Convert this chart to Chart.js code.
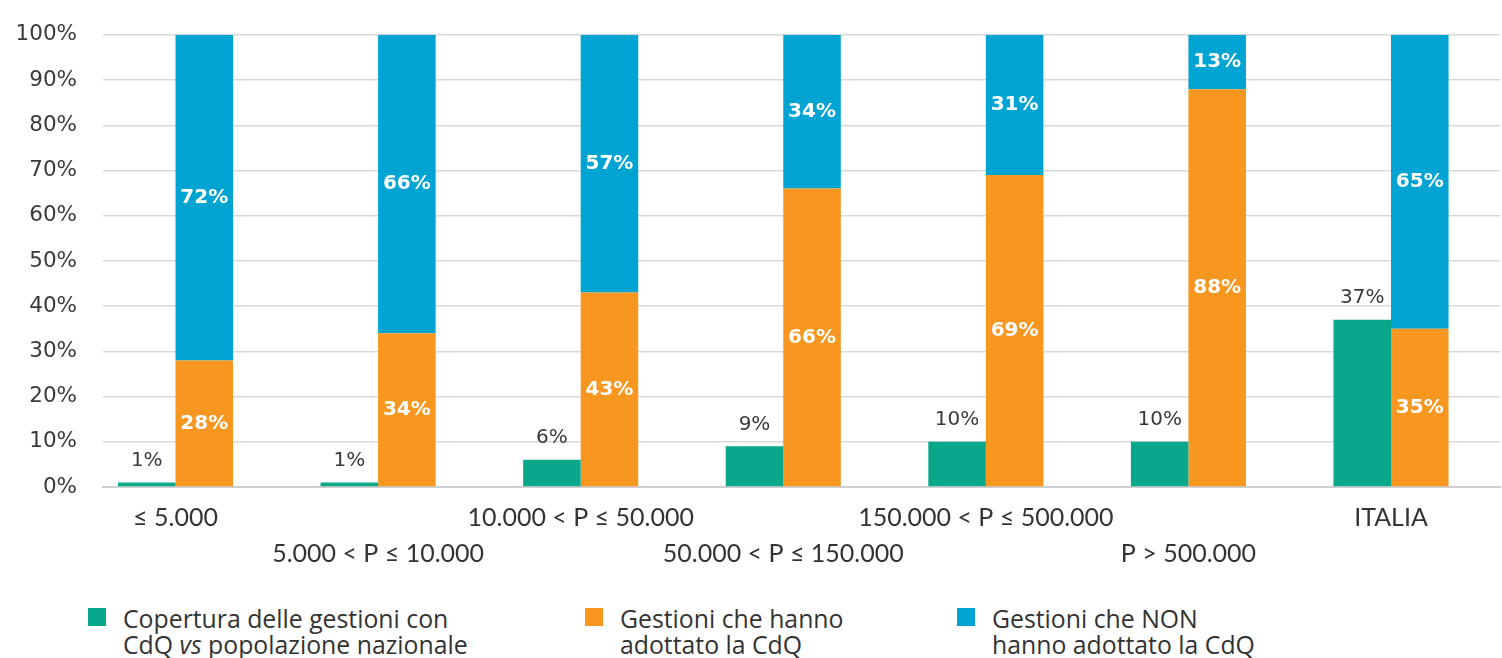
<!DOCTYPE html>
<html>
<head>
<meta charset="utf-8">
<script src="https://cdn.jsdelivr.net/npm/chart.js@4"></script>
<style>
  body { margin: 0; background: #fff; }
  #wrap { position: relative; width: 1502px; height: 658px; overflow: hidden; }
  #chart-box { position: absolute; left: 0; top: -4px; width: 1502px; height: 581px; }
  .legend-item { position: absolute; top: 605px; font-family: "Open Sans", sans-serif; font-size: 24.8px; line-height: 26px; color: #333; white-space: nowrap; }
  .legend-item .box { position: absolute; left: -35px; top: 3px; width: 18px; height: 18px; }
</style>
</head>
<body>
<div id="wrap">
  <div id="chart-box"><canvas id="chart"></canvas></div>
  <div id="legend"></div>
</div>
<script>
const categories = ["\u2264 5.000", "5.000 < P \u2264 10.000", "10.000 < P \u2264 50.000", "50.000 < P \u2264 150.000", "150.000 < P \u2264 500.000", "P > 500.000", "ITALIA"];
const coverage = [1, 1, 6, 9, 10, 10, 37];
const adopted = [28, 34, 43, 66, 69, 88, 35];
const notAdopted = [72, 66, 57, 34, 31, 13, 65];
const yTicks = [0, 10, 20, 30, 40, 50, 60, 70, 80, 90, 100];

const seriesNames = [
    "Copertura delle gestioni con<br>CdQ <i>vs</i> popolazione nazionale",
    "Gestioni che hanno<br>adottato la CdQ",
    "Gestioni che NON<br>hanno adottato la CdQ"
];
const colors = ["#0aa88a", "#f7971f", "#00a4d3"];
const legendX = [123, 620, 992];

function toPoints(values) {
    return values.map((v, i) => ({ x: i, y: v }));
}

// value labels drawn from the bar elements
const valueLabels = {
    id: "valueLabels",
    afterDatasetsDraw(chart) {
        const ctx = chart.ctx;
        const area = chart.chartArea;
        ctx.save();
        ctx.textAlign = "center";
        ctx.textBaseline = "middle";
        chart.data.datasets.forEach((ds, di) => {
            const meta = chart.getDatasetMeta(di);
            meta.data.forEach((bar, i) => {
                const v = ds.data[i].y;
                if (di === 0) {
                    ctx.fillStyle = "#3a3a3a";
                    ctx.font = "20px 'DejaVu Sans'";
                    ctx.fillText(v + "%", bar.x, bar.y - 22);
                } else {
                    const top = Math.max(bar.y, area.top);
                    ctx.fillStyle = "#ffffff";
                    ctx.font = "bold 20px 'DejaVu Sans'";
                    ctx.fillText(v + "%", bar.x, (top + bar.base) / 2);
                }
            });
        });
        ctx.restore();
    }
};

new Chart(document.getElementById("chart"), {
    type: "bar",
    data: {
        datasets: [
            { label: "Copertura", data: toPoints(coverage), backgroundColor: colors[0], stack: "a" },
            { label: "Adottato", data: toPoints(adopted), backgroundColor: colors[1], stack: "b" },
            { label: "Non adottato", data: toPoints(notAdopted), backgroundColor: colors[2], stack: "b" }
        ]
    },
    options: {
        responsive: true,
        maintainAspectRatio: false,
        animation: false,
        categoryPercentage: 0.568,
        barPercentage: 1,
        layout: { padding: { top: 27, right: 2, left: 0, bottom: 0 } },
        plugins: {
            legend: { display: false },
            tooltip: { enabled: false }
        },
        scales: {
            x: {
                type: "linear",
                offset: false,
                min: -0.358,
                max: 6.538,
                grid: { display: false, offset: false },
                border: { display: true, color: "#cfcfcf", width: 2 },
                afterBuildTicks: (scale) => {
                    scale.ticks = categories.map((c, i) => ({ value: i }));
                },
                afterFit: (scale) => { scale.height = 90; },
                ticks: {
                    autoSkip: false,
                    maxRotation: 0,
                    padding: 5,
                    color: "#333",
                    font: { family: "Lato", size: 25, lineHeight: 1.44 },
                    callback: (value) => {
                        const label = categories[Math.round(value)];
                        return Math.round(value) % 2 === 0 ? label : ["", label];
                    }
                }
            },
            y: {
                stacked: true,
                min: 0,
                max: 100,
                afterBuildTicks: (scale) => {
                    scale.ticks = yTicks.map(v => ({ value: v }));
                },
                afterFit: (scale) => { scale.width = 103; },
                grid: { color: "#d9d9d9", lineWidth: 1.5, drawTicks: false },
                border: { display: false },
                ticks: {
                    padding: 26,
                    color: "#3a3a3a",
                    font: { family: "DejaVu Sans", size: 21.5 },
                    callback: (v) => v + "%"
                }
            }
        }
    },
    plugins: [valueLabels]
});

// two-line legend below the chart
const legend = document.getElementById("legend");
seriesNames.forEach((name, i) => {
    const item = document.createElement("div");
    item.className = "legend-item";
    item.style.left = legendX[i] + "px";
    item.innerHTML = `<span class="box" style="background:${colors[i]}"></span>${name}`;
    legend.appendChild(item);
});
</script>
</body>
</html>
